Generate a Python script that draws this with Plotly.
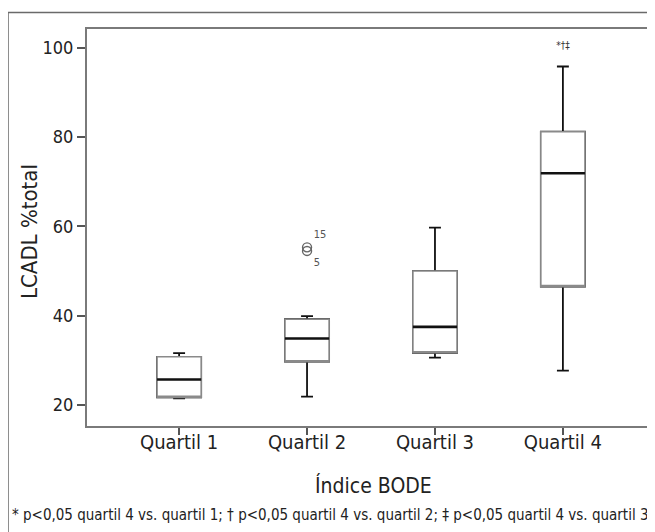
import plotly.graph_objects as go

categories = ["Quartil 1", "Quartil 2", "Quartil 3", "Quartil 4"]
lower_whisker = [21.5, 21.9, 30.6, 27.7]
q1_vals = [21.7, 29.7, 31.7, 46.5]
median_vals = [25.7, 34.9, 37.5, 71.9]
q3_vals = [30.8, 39.2, 50.0, 81.2]
upper_whisker = [31.6, 39.9, 59.7, 95.8]

outlier_x = ["Quartil 2", "Quartil 2"]
outlier_y = [55.3, 54.5]
outlier_labels = ["15", "5"]

sig_x = ["Quartil 4"]
sig_y = [100.3]
sig_labels = ["*†‡"]

y_ticks = [20, 40, 60, 80, 100]

FONT = "Liberation Sans Narrow, DejaVu Sans Condensed, Arial Narrow, sans-serif"
BOXW = 0.345

fig = go.Figure()

# full box: whiskers in black
fig.add_trace(go.Box(
    x=categories, q1=q1_vals, median=median_vals, q3=q3_vals,
    lowerfence=lower_whisker, upperfence=upper_whisker,
    width=BOXW, whiskerwidth=0.27,
    line=dict(color="#111111", width=1.8), fillcolor="white",
    showlegend=False, hoverinfo="skip", boxpoints=False,
))
# box outline in grey
fig.add_trace(go.Box(
    x=categories, q1=q1_vals, median=q1_vals, q3=q3_vals,
    lowerfence=q1_vals, upperfence=q3_vals,
    width=BOXW, whiskerwidth=0,
    line=dict(color="#8a8a8a", width=1.6), fillcolor="white",
    showlegend=False, hoverinfo="skip", boxpoints=False,
))
# median line thick black
fig.add_trace(go.Box(
    x=categories, q1=median_vals, median=median_vals, q3=median_vals,
    lowerfence=median_vals, upperfence=median_vals,
    width=BOXW, whiskerwidth=0,
    line=dict(color="#111111", width=2.6), fillcolor="rgba(0,0,0,0)",
    showlegend=False, hoverinfo="skip", boxpoints=False,
))
# outliers
fig.add_trace(go.Scatter(
    x=outlier_x, y=outlier_y, mode="markers+text",
    text=outlier_labels, textposition=["top right", "bottom right"],
    textfont=dict(family=FONT, size=11, color="#555555"),
    marker=dict(symbol="circle-open", size=9, color="#666666", line=dict(width=1.4)),
    showlegend=False, hoverinfo="skip", cliponaxis=False,
))
# significance markers
fig.add_trace(go.Scatter(
    x=sig_x, y=sig_y, mode="text", text=sig_labels,
    textfont=dict(family=FONT, size=10, color="#333333"),
    showlegend=False, hoverinfo="skip", cliponaxis=False,
))

# the page body adds an 8px offset; compensate
OX, OY = 8, 8
W, H = 670, 524
L, R, T = 79, 0, 21
B = H - (426 - OY)
pw, ph = W - L - R, H - T - B
X_LO = -0.72
X_HI = X_LO + pw / 127.93

def px_x(p):
    return (p - OX - L) / pw

def px_y(p):
    return (H - B - (p - OY)) / ph

fig.update_layout(
    width=W, height=H,
    margin=dict(l=L, r=R, t=T, b=B, pad=0, autoexpand=False),
    paper_bgcolor="white", plot_bgcolor="white",
    boxmode="overlay",
    font=dict(family=FONT, color="#222222"),
    xaxis=dict(
        type="category", categoryorder="array", categoryarray=categories,
        range=[X_LO, X_HI], showgrid=False, zeroline=False, automargin=False,
        showline=True, linecolor="#7a7a7a", linewidth=2, mirror=True,
        ticks="outside", ticklen=7, tickwidth=1.5, tickcolor="#555555",
        ticklabelstandoff=-10,
        tickfont=dict(family=FONT, size=20, color="#222222"),
    ),
    yaxis=dict(
        range=[15.3, 104.2], tickvals=y_ticks, showgrid=False, zeroline=False, automargin=False,
        showline=True, linecolor="#7a7a7a", linewidth=2, mirror=True,
        ticks="outside", ticklen=8, tickwidth=1.5, tickcolor="#555555",
        tickfont=dict(family=FONT, size=18, color="#222222"),
    ),
    shapes=[dict(
        type="rect", xref="paper", yref="paper",
        x0=px_x(8), x1=px_x(720), y0=px_y(12.5), y1=px_y(600),
        line=dict(color="#6a6a6a", width=1.5), fillcolor="rgba(0,0,0,0)", layer="below",
    )],
    annotations=[
        dict(
            text="* p<0,05 quartil 4 vs. quartil 1; † p<0,05 quartil 4 vs. quartil 2; ‡ p<0,05 quartil 4 vs. quartil 3",
            xref="paper", yref="paper", x=px_x(10), y=px_y(515),
            xanchor="left", yanchor="middle", showarrow=False,
            font=dict(family=FONT, size=15, color="#222222"),
        ),
        dict(
            text="Índice BODE", xref="paper", yref="paper",
            x=px_x(373), y=px_y(485), xanchor="center", yanchor="middle",
            showarrow=False, font=dict(family=FONT, size=21, color="#222222"),
        ),
        dict(
            text="LCADL %total", xref="paper", yref="paper", textangle=-90,
            x=px_x(29), y=px_y(232), xanchor="center", yanchor="middle",
            showarrow=False, font=dict(family=FONT, size=22, color="#222222"),
        ),
    ],
)

fig.write_html("out.html")
